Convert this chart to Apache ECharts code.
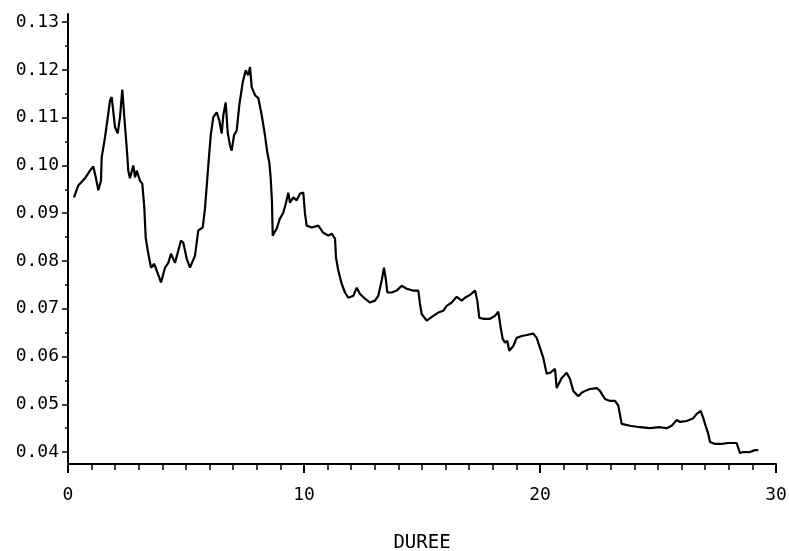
<!DOCTYPE html>
<html><head><meta charset="utf-8">
<script src="https://cdn.jsdelivr.net/npm/echarts@6/dist/echarts.min.js"></script>
<style>html,body{margin:0;padding:0;background:#fff}#c{width:789px;height:551px}</style>
</head><body><div id="c"></div>
<script>
const duree = [0.254,0.436,0.720,0.932,1.072,1.186,1.284,1.398,1.428,1.568,1.708,1.780,1.852,1.992,2.106,2.203,2.301,2.386,2.487,2.555,2.627,2.767,2.839,2.911,3.051,3.148,3.233,3.292,3.403,3.517,3.657,3.758,3.941,4.110,4.250,4.364,4.534,4.788,4.886,5.030,5.169,5.381,5.521,5.708,5.805,5.945,6.047,6.157,6.301,6.411,6.513,6.581,6.682,6.767,6.864,6.936,7.034,7.148,7.258,7.403,7.530,7.640,7.712,7.784,7.924,8.064,8.208,8.347,8.445,8.530,8.589,8.644,8.674,8.843,8.983,9.123,9.237,9.335,9.407,9.547,9.691,9.831,9.970,10.042,10.114,10.326,10.606,10.818,11.030,11.174,11.314,11.356,11.453,11.597,11.737,11.877,12.089,12.233,12.373,12.585,12.797,13.008,13.148,13.292,13.390,13.475,13.530,13.716,13.928,14.140,14.352,14.631,14.843,14.915,14.987,15.199,15.479,15.691,15.903,16.047,16.258,16.470,16.682,16.822,17.034,17.246,17.343,17.428,17.597,17.881,18.093,18.233,18.335,18.419,18.517,18.614,18.699,18.869,19.013,19.225,19.436,19.716,19.860,20.000,20.140,20.284,20.424,20.636,20.708,20.919,21.131,21.271,21.411,21.623,21.767,21.907,22.119,22.403,22.542,22.754,22.966,23.178,23.318,23.462,23.814,24.237,24.661,25.085,25.369,25.581,25.792,25.932,26.216,26.496,26.640,26.809,26.919,26.992,27.131,27.203,27.415,27.699,27.979,28.335,28.403,28.475,28.614,28.898,29.110,29.250];
const taux = [0.0933,0.0958,0.0973,0.0989,0.0998,0.0973,0.0948,0.0968,0.1017,0.1059,0.1109,0.1136,0.1143,0.1080,0.1067,0.1101,0.1159,0.1101,0.1038,0.0989,0.0973,0.1000,0.0975,0.0989,0.0968,0.0962,0.0912,0.0849,0.0815,0.0786,0.0794,0.0780,0.0755,0.0786,0.0796,0.0815,0.0796,0.0843,0.0838,0.0805,0.0786,0.0811,0.0864,0.0870,0.0910,0.1000,0.1063,0.1101,0.1111,0.1094,0.1067,0.1105,0.1132,0.1069,0.1042,0.1031,0.1063,0.1073,0.1126,0.1174,0.1199,0.1189,0.1206,0.1164,0.1147,0.1141,0.1105,0.1063,0.1027,0.1006,0.0973,0.0922,0.0853,0.0868,0.0889,0.0901,0.0922,0.0943,0.0922,0.0933,0.0927,0.0941,0.0943,0.0899,0.0874,0.0870,0.0874,0.0859,0.0853,0.0857,0.0847,0.0807,0.0780,0.0752,0.0734,0.0723,0.0727,0.0744,0.0731,0.0721,0.0713,0.0717,0.0727,0.0759,0.0786,0.0759,0.0734,0.0734,0.0738,0.0748,0.0742,0.0738,0.0738,0.0710,0.0689,0.0675,0.0685,0.0692,0.0696,0.0706,0.0713,0.0725,0.0717,0.0723,0.0729,0.0738,0.0717,0.0681,0.0679,0.0679,0.0685,0.0694,0.0660,0.0637,0.0629,0.0633,0.0612,0.0622,0.0639,0.0643,0.0645,0.0648,0.0639,0.0618,0.0597,0.0564,0.0566,0.0574,0.0534,0.0555,0.0566,0.0553,0.0528,0.0517,0.0524,0.0528,0.0532,0.0534,0.0528,0.0511,0.0507,0.0507,0.0497,0.0459,0.0455,0.0452,0.0450,0.0452,0.0450,0.0455,0.0467,0.0463,0.0465,0.0471,0.0480,0.0486,0.0471,0.0459,0.0438,0.0421,0.0417,0.0417,0.0419,0.0419,0.0408,0.0398,0.0400,0.0400,0.0404,0.0404];
const yTickLabels = [0.04,0.05,0.06,0.07,0.08,0.09,0.10,0.11,0.12,0.13];
const yMinorTicks = [0.045,0.055,0.065,0.075,0.085,0.095,0.105,0.115,0.125];
const xTickLabels = [0,10,20,30];
const xName = 'DUREE';

const font = '"DejaVu Sans Mono", monospace';
const chart = echarts.init(document.getElementById('c'), null, {renderer: 'canvas'});
chart.setOption({
  animation: false,
  backgroundColor: '#fff',
  grid: {left: 68, right: 13, top: 14, bottom: 87, containLabel: false, outerBoundsMode: 'none'},
  xAxis: {
    type: 'value', min: 0, max: 30, interval: 10,
    name: xName, nameLocation: 'middle', nameGap: 70,
    nameTextStyle: {color: '#000', fontFamily: font, fontSize: 19},
    axisLine: {show: true, lineStyle: {color: '#000', width: 2}},
    axisTick: {show: true, length: 9, lineStyle: {color: '#000', width: 2}},
    minorTick: {show: true, splitNumber: 10, length: 6, lineStyle: {color: '#000', width: 1.5}},
    axisLabel: {color: '#000', fontFamily: font, fontSize: 18, margin: 22,
      customValues: xTickLabels},
    splitLine: {show: false}
  },
  yAxis: [{
    type: 'value', min: 0.0375, max: 0.1317, position: 'left',
    axisLine: {show: true, onZero: false, lineStyle: {color: '#000', width: 2}},
    axisTick: {show: true, length: 6, customValues: yTickLabels, lineStyle: {color: '#000', width: 1.5}},
    axisLabel: {color: '#000', fontFamily: font, fontSize: 18, margin: 9,
      customValues: yTickLabels, formatter: v => v.toFixed(2)},
    splitLine: {show: false}
  }, {
    type: 'value', min: 0.0375, max: 0.1317, position: 'left', offset: 0,
    axisLine: {show: false},
    axisTick: {show: true, length: 3, customValues: yMinorTicks, lineStyle: {color: '#000', width: 1.5}},
    axisLabel: {show: false},
    splitLine: {show: false}
  }],
  series: [{
    type: 'line', yAxisIndex: 0,
    data: duree.map((d, i) => [d, taux[i]]),
    showSymbol: false, symbol: 'none',
    lineStyle: {color: '#000', width: 2.2},
    itemStyle: {color: '#000'}
  }]
});
</script>
</body></html>
